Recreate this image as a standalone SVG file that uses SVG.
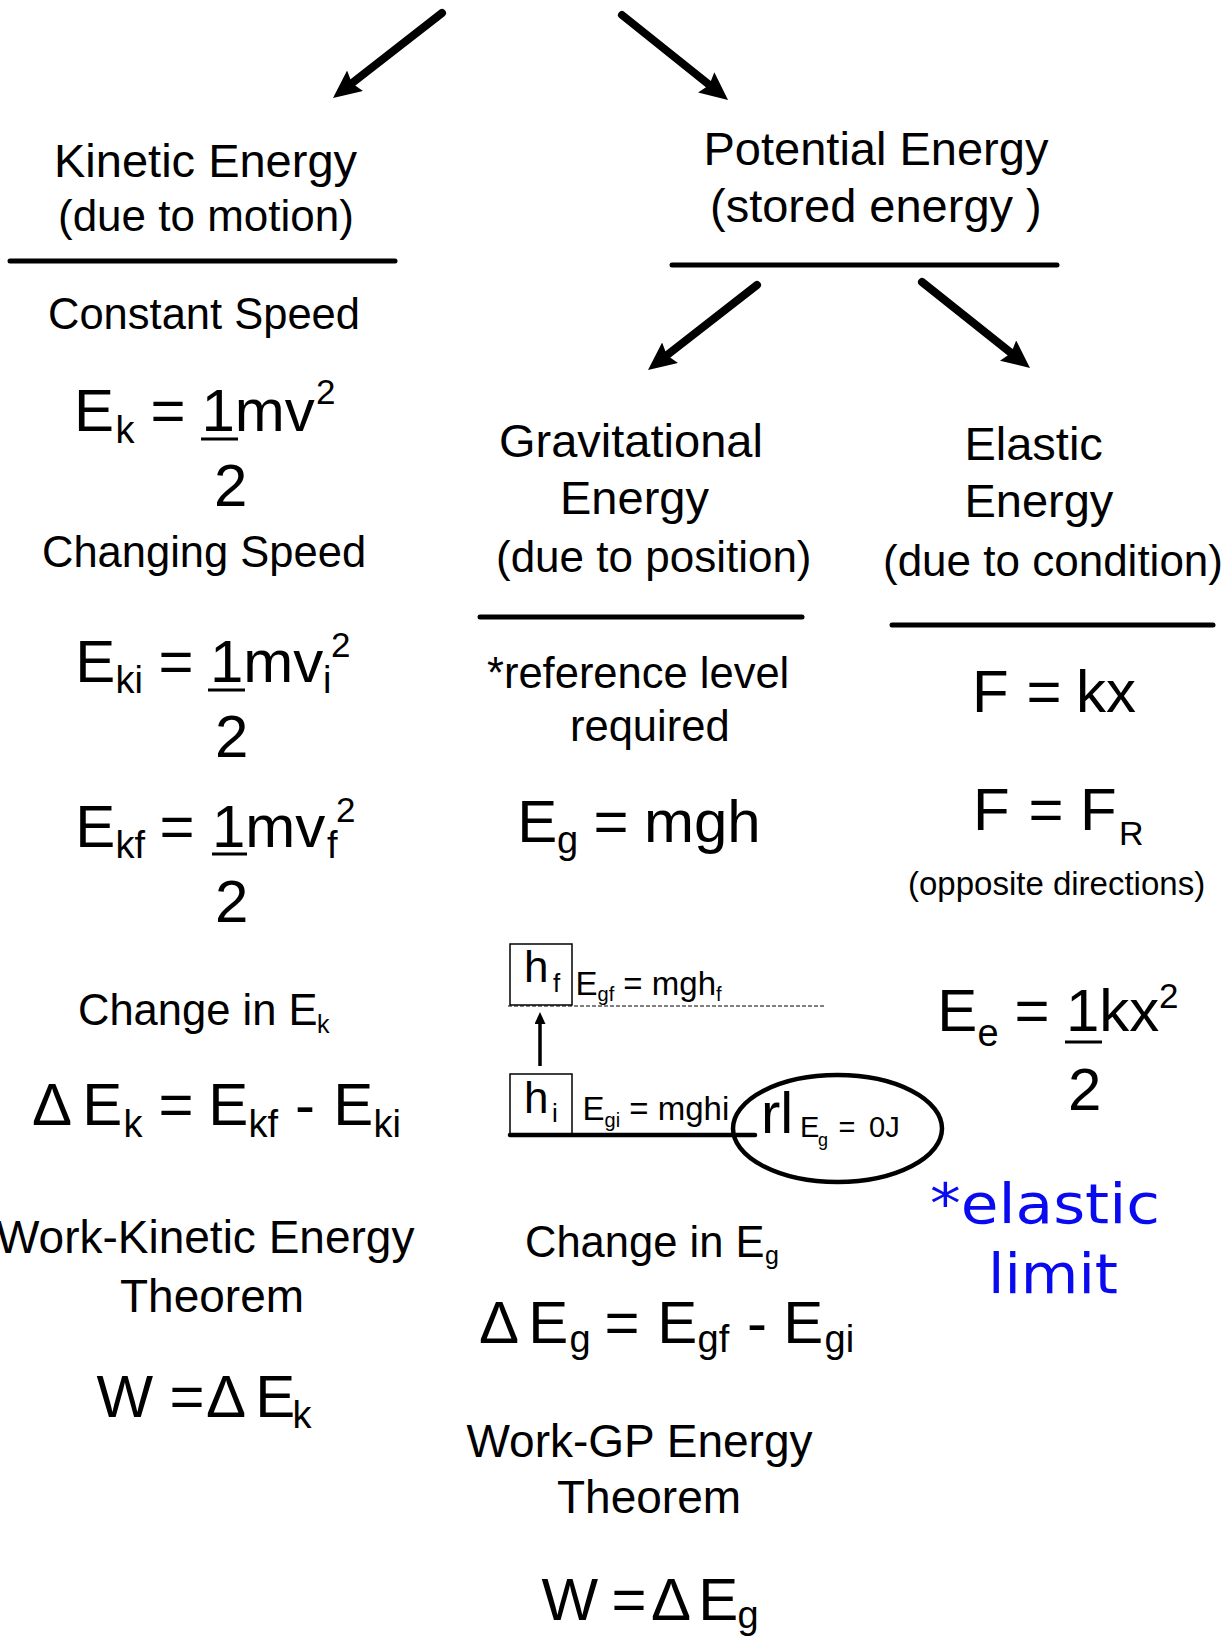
<svg xmlns="http://www.w3.org/2000/svg" width="1229" height="1636" viewBox="0 0 1229 1636">
<defs>
<style>
.t{font-family:"Liberation Sans",Arial,sans-serif;fill:#000}
.h47{font-size:47px}
.h46{font-size:46px}
.h44{font-size:44px}
.h43{font-size:43.5px}
.f60{font-size:60px}
.sub{font-size:38px}
.sup{font-size:35px}
.rule{stroke:#000;stroke-width:5;stroke-linecap:round}
.frac{stroke:#000;stroke-width:3}
.arrow{stroke:#000;stroke-width:8;stroke-linecap:round;fill:none;marker-end:url(#ah)}
.hand{font-family:"DejaVu Sans",sans-serif;fill:#0a0af0;font-size:56px}
</style>
<marker id="ah" markerUnits="userSpaceOnUse" viewBox="0 0 28 26" markerWidth="28" markerHeight="26" refX="10" refY="13" orient="auto">
<path d="M0,0 L28,13 L0,26 L4,13 Z" fill="#000"/>
</marker>
<marker id="ahs" markerUnits="userSpaceOnUse" viewBox="0 0 12 11" markerWidth="12" markerHeight="11" refX="4" refY="5.5" orient="auto">
<path d="M0,0 L12,5.5 L0,11 Z" fill="#000"/>
</marker>
</defs>
<rect width="1229" height="1636" fill="#fff"/>

<g id="connectors">
<line class="arrow" x1="442" y1="13" x2="347.2" y2="86.9"/>
<line class="arrow" x1="622" y1="15" x2="714" y2="88.7"/>
<line class="arrow" x1="757" y1="285" x2="662.2" y2="358.9"/>
<line class="arrow" x1="922" y1="282" x2="1015.9" y2="356.8"/>
</g>

<g id="kinetic">
<text class="t h47" x="54" y="177">Kinetic Energy</text>
<text class="t h44" x="58" y="231">(due to motion)</text>
<line class="rule" x1="10" y1="261" x2="395" y2="261"/>
<text class="t h43" x="48" y="329">Constant Speed</text>
<text class="t f60" y="431"><tspan x="74">E</tspan><tspan class="sub" x="115.5" y="443">k</tspan><tspan x="150.5" y="431">=</tspan><tspan x="201.5">1mv</tspan><tspan class="sup" x="316" y="404">2</tspan></text>
<line class="frac" x1="201" y1="439" x2="238" y2="439"/>
<text class="t f60" x="214" y="506">2</text>
<text class="t h43" x="42" y="567">Changing Speed</text>
<text class="t f60" y="682"><tspan x="75.3">E</tspan><tspan class="sub" x="115.5" y="693">ki</tspan><tspan x="158.5" y="682">=</tspan><tspan x="210">1mv</tspan><tspan class="sub" x="323" y="693">i</tspan><tspan class="sup" x="331" y="657">2</tspan></text>
<line class="frac" x1="208" y1="690" x2="245" y2="690"/>
<text class="t f60" x="215" y="757">2</text>
<text class="t f60" y="847"><tspan x="75.3">E</tspan><tspan class="sub" x="115.5" y="858">kf</tspan><tspan x="159.5" y="847">=</tspan><tspan x="212">1mv</tspan><tspan class="sub" x="327" y="858">f</tspan><tspan class="sup" x="336" y="822">2</tspan></text>
<line class="frac" x1="212" y1="854" x2="247" y2="854"/>
<text class="t f60" x="215" y="922">2</text>
<text class="t h43" x="78" y="1025">Change in E<tspan x="317" y="1033" style="font-size:25px">k</tspan></text>
<text class="t f60" y="1125"><tspan x="32">Δ</tspan><tspan x="82.3">E</tspan><tspan class="sub" x="123.5" y="1137">k</tspan><tspan x="158.5" y="1125">=</tspan><tspan x="208.3">E</tspan><tspan class="sub" x="248.5" y="1137">kf</tspan><tspan x="295" y="1125">-</tspan><tspan x="333.3">E</tspan><tspan class="sub" x="373.5" y="1137">ki</tspan></text>
<text class="t h46" x="-4" y="1253">Work-Kinetic Energy</text>
<text class="t h46" x="120" y="1312">Theorem</text>
<text class="t f60" y="1417"><tspan x="96.5">W</tspan><tspan x="169.5">=</tspan><tspan x="206">Δ</tspan><tspan x="255.3">E</tspan><tspan class="sub" x="292.5" y="1428">k</tspan></text>
</g>

<g id="potential">
<text class="t h47" x="703.5" y="165">Potential Energy</text>
<text class="t h47" x="710" y="222">(stored energy )</text>
<line class="rule" x1="672" y1="265" x2="1057" y2="265"/>
</g>

<g id="gravitational">
<text class="t h47" x="499" y="457">Gravitational</text>
<text class="t h47" x="560" y="514">Energy</text>
<text class="t h44" x="496" y="572">(due to position)</text>
<line class="rule" x1="480" y1="617" x2="802" y2="617"/>
<text class="t h43" x="487" y="688">*reference level</text>
<text class="t h43" x="570" y="741">required</text>
<text class="t f60" y="842"><tspan x="517.3">E</tspan><tspan class="sub" x="557" y="853">g</tspan><tspan x="593.5" y="842">=</tspan><tspan x="644">mgh</tspan></text>
</g>

<g id="height-diagram">
<rect x="510" y="944" width="62" height="61" fill="none" stroke="#000" stroke-width="1.5"/>
<text class="t" style="font-size:44px" x="524" y="982">h<tspan x="553" y="992" style="font-size:26px">f</tspan></text>
<text class="t" style="font-size:33px" x="575.5" y="995">E<tspan y="1001" style="font-size:20px">gf</tspan><tspan y="995"> = mgh</tspan><tspan y="1001" style="font-size:20px">f</tspan></text>
<line x1="508" y1="1006" x2="826" y2="1006" stroke="#000" stroke-width="1" stroke-dasharray="4 2"/>
<line x1="540" y1="1066" x2="540" y2="1020" stroke="#000" stroke-width="3.5" marker-end="url(#ahs)"/>
<rect x="510" y="1074" width="62" height="60" fill="none" stroke="#000" stroke-width="1.5"/>
<text class="t" style="font-size:44px" x="524" y="1113">h<tspan x="552" y="1122" style="font-size:26px">i</tspan></text>
<text class="t" style="font-size:33px" x="582.5" y="1120">E<tspan y="1127" style="font-size:20px">gi</tspan><tspan y="1120"> = mghi</tspan></text>
<line x1="510" y1="1135" x2="755" y2="1135" stroke="#000" stroke-width="4.5" stroke-linecap="round"/>
<ellipse cx="837.5" cy="1128.5" rx="104.5" ry="53.5" fill="none" stroke="#000" stroke-width="4.5"/>
<text class="t" style="font-size:58px" x="761" y="1133">rl</text>
<text class="t" style="font-size:29px" x="800" y="1137">E<tspan x="818" y="1146" style="font-size:18px">g</tspan><tspan x="838.5" y="1137">=</tspan><tspan x="869">0J</tspan></text>
</g>

<g id="gravitational-change">
<text class="t h43" x="525" y="1257">Change in E<tspan x="765" y="1264" style="font-size:25px">g</tspan></text>
<text class="t f60" y="1343"><tspan x="479">Δ</tspan><tspan x="528.3">E</tspan><tspan class="sub" x="569.5" y="1352">g</tspan><tspan x="604.5" y="1343">=</tspan><tspan x="657.3">E</tspan><tspan class="sub" x="697.5" y="1352">gf</tspan><tspan x="747" y="1343">-</tspan><tspan x="783.3">E</tspan><tspan class="sub" x="824.5" y="1352">gi</tspan></text>
<text class="t h46" x="466.5" y="1457">Work-GP Energy</text>
<text class="t h46" x="557" y="1513">Theorem</text>
<text class="t f60" y="1620"><tspan x="541.5">W</tspan><tspan x="611.5">=</tspan><tspan x="651">Δ</tspan><tspan x="698.3">E</tspan><tspan class="sub" x="737.5" y="1628">g</tspan></text>
</g>

<g id="elastic">
<text class="t h47" x="964.4" y="460">Elastic</text>
<text class="t h47" x="964.4" y="517">Energy</text>
<text class="t h44" x="883" y="576">(due to condition)</text>
<line class="rule" x1="892" y1="625" x2="1213" y2="625"/>
<text class="t f60" y="712"><tspan x="972">F</tspan><tspan x="1026.5">=</tspan><tspan x="1076">kx</tspan></text>
<text class="t f60" y="830"><tspan x="973">F</tspan><tspan x="1028.5">=</tspan><tspan x="1080">F</tspan><tspan x="1119" y="845" style="font-size:34px">R</tspan></text>
<text class="t" style="font-size:33px" x="908" y="895">(opposite directions)</text>
<text class="t f60" y="1031"><tspan x="937.3">E</tspan><tspan class="sub" x="977.5" y="1046">e</tspan><tspan x="1014.5" y="1031">=</tspan><tspan x="1066">1kx</tspan><tspan class="sup" x="1159" y="1008">2</tspan></text>
<line class="frac" x1="1065" y1="1042" x2="1102" y2="1042"/>
<text class="t f60" x="1068" y="1110">2</text>
</g>

<g id="note">
<text class="hand" x="930" y="1223" textLength="230" lengthAdjust="spacingAndGlyphs">*elastic</text>
<text class="hand" x="988" y="1293" textLength="130" lengthAdjust="spacingAndGlyphs">limit</text>
</g>
</svg>
